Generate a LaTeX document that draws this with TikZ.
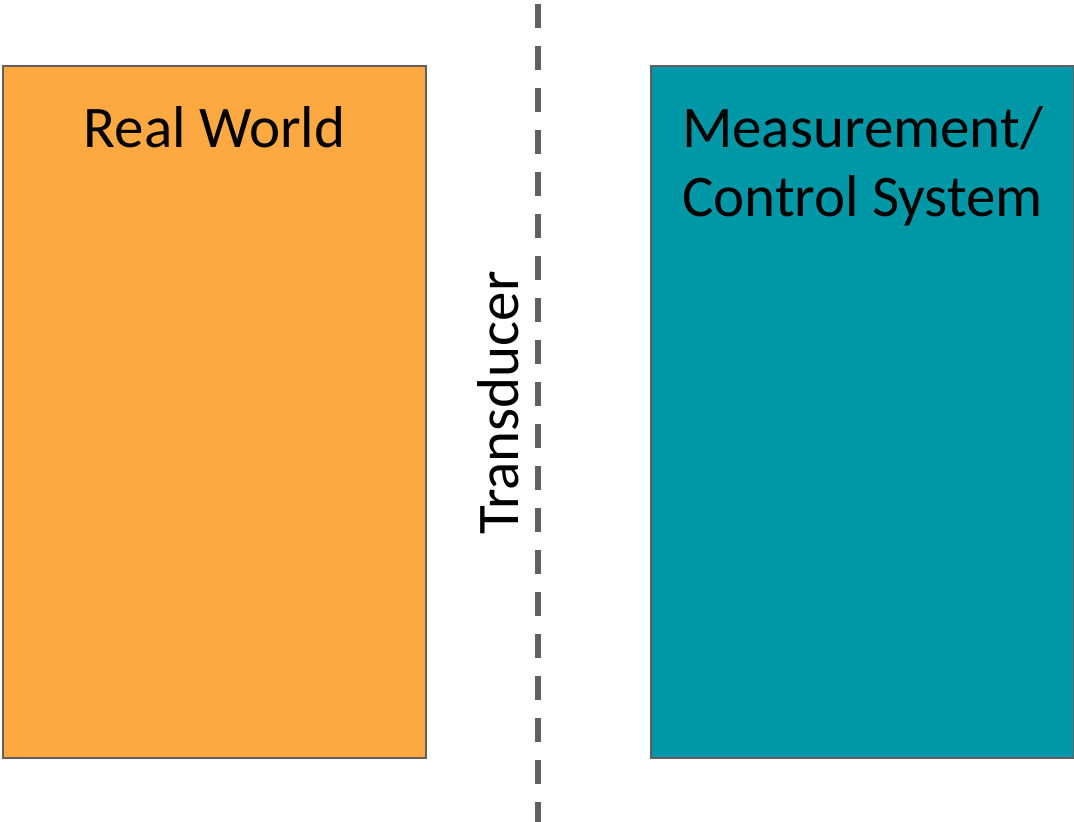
\documentclass[tikz,border=0pt]{standalone}
\usepackage{fontspec}
\setmainfont{Carlito}
\usetikzlibrary{positioning}

\definecolor{worldorange}{HTML}{FCA941}
\definecolor{systemteal}{HTML}{0097A7}
\definecolor{edgegray}{HTML}{606060}

\tikzset{
	block/.style={draw=edgegray, line width=1.4pt, minimum width=423pt, minimum height=692pt, inner sep=0pt},
	blocklabel/.style={font=\fontsize{59}{69}\selectfont, align=center, inner sep=0pt, anchor=base},
	boundary/.style={edgegray, line width=6pt, dash pattern=on 24pt off 18pt}
}

\begin{document}
\begin{tikzpicture}[x=1pt,y=1pt]

	\useasboundingbox (0,0) rectangle (1074,822);

	\node[block, fill=worldorange] (world) at (214.5,410) {};
	\node[block, fill=systemteal] (system) at (862.5,410) {};

	\node[blocklabel] (world label) at ([yshift=-82pt]world.north) {Real World};
	% base of a two-line label is its last line
	\node[blocklabel] (system label) at ([yshift=-151pt]system.north) {Measurement/\\Control System};

	\coordinate (line top) at (538,818);
	\coordinate (line bottom) at (538,0);
	\draw[boundary] (line top) -- (line bottom);

	\node[blocklabel, rotate=90] (transducer) at (518,419) {Transducer};

\end{tikzpicture}
\end{document}
